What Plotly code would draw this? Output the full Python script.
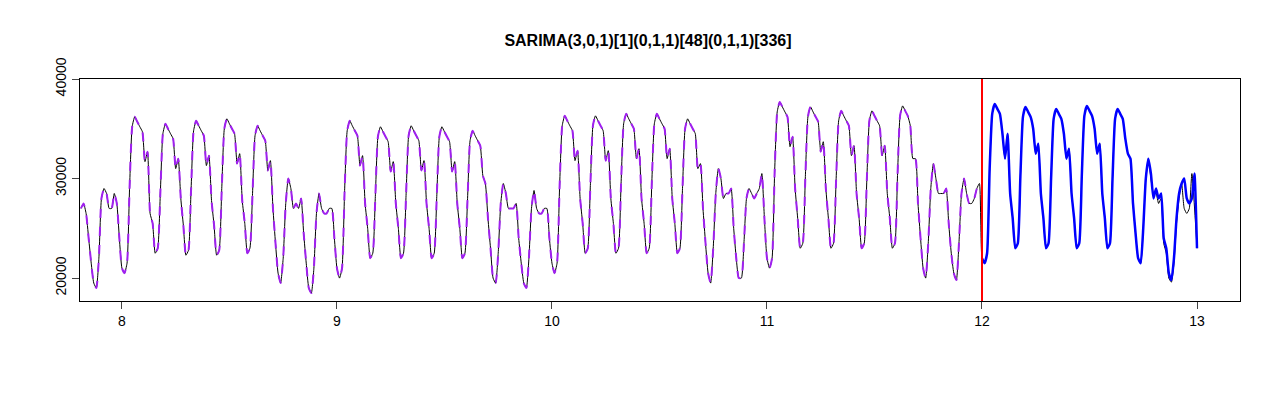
import plotly.graph_objects as go

# 2-hourly demand values (hours 0,2,...,22 per day), weeks 7 (partial) to 12
wk7 = [27000, 27500, 26500, 24000,
       21500, 19500, 19000, 22000, 28000, 29000, 28500, 27000, 27000, 28500, 27500, 24000]
wk8 = [21000, 20500, 21500, 29200, 35200, 36200, 35700, 35200, 34700, 31700, 32700, 26500,
       25500, 22500, 23000, 28500, 34500, 35500, 35000, 34500, 34000, 31000, 32000, 28000,
       25300, 22300, 22800, 28800, 34800, 35800, 35300, 34800, 34300, 31300, 32300, 27800,
       25300, 22300, 22800, 29000, 35000, 36000, 35500, 35000, 34500, 31500, 32500, 27800,
       25500, 22500, 23000, 28300, 34300, 35300, 34800, 34300, 33800, 30800, 31800, 27000,
       23500, 20500, 19500, 22000, 27500, 30000, 29000, 27000, 27500, 27000, 28000, 24500,
       21500, 19000, 18500, 21000, 26500, 28500, 27000, 26500, 26500, 27000, 27000, 24000]
wk9 = [21000, 20000, 21000, 28800, 34800, 35800, 35300, 34800, 34300, 31300, 32300, 27500,
       25000, 22000, 22500, 28200, 34200, 35200, 34700, 34200, 33700, 30700, 31700, 27500,
       25000, 22000, 22500, 28300, 34300, 35300, 34800, 34300, 33800, 30800, 31800, 27500,
       25000, 22000, 22500, 28200, 34200, 35200, 34700, 34200, 33700, 30700, 31700, 27500,
       25000, 22000, 22500, 27800, 33800, 34800, 34300, 33800, 33300, 30300, 29500, 26000,
       23000, 20000, 19500, 22500, 27500, 29500, 28500, 27000, 27000, 27000, 27500, 24000,
       21500, 19500, 19000, 22000, 27000, 28800, 27000, 26500, 26500, 27000, 27000, 24000]
wk10 = [21500, 20500, 21500, 29300, 35300, 36300, 35800, 35300, 34800, 31800, 32800, 28000,
        25500, 22500, 23000, 29300, 35300, 36300, 35800, 35300, 34800, 31800, 32800, 28000,
        25500, 22500, 23000, 29500, 35500, 36500, 36000, 35500, 35000, 32000, 33000, 28000,
        25500, 22500, 23000, 29500, 35500, 36500, 36000, 35500, 35000, 32000, 33000, 28000,
        25500, 22500, 23000, 29000, 35000, 36000, 35500, 35000, 34500, 31000, 31500, 27000,
        23500, 20500, 19500, 23000, 28500, 31000, 30000, 28000, 28500, 28500, 29000, 25000,
        22000, 20000, 20000, 23500, 28000, 29000, 28500, 28000, 28500, 29000, 30500, 26000]
wk11 = [22000, 21000, 22000, 30700, 36700, 37700, 37200, 36700, 36200, 33200, 34200, 29000,
        26000, 23000, 23500, 30200, 36200, 37200, 36700, 36200, 35700, 32700, 33700, 29000,
        26000, 23000, 23500, 29800, 35800, 36800, 36300, 35800, 35300, 32300, 33300, 28500,
        26000, 23000, 23500, 29800, 35800, 36800, 36300, 35800, 35300, 32300, 33300, 28500,
        26000, 23000, 23500, 30300, 36300, 37300, 36800, 36300, 35300, 32000, 32000, 27500,
        24000, 21000, 20000, 23500, 29000, 31500, 30000, 28500, 28500, 28500, 29000, 25500,
        22500, 20500, 19800, 23500, 28500, 30000, 28500, 27500, 27500, 28000, 29000, 29500]
wk12_actual = [22000, 21500, 22500, 31000, 36500, 37500, 37000, 36500, 34500, 32000, 34500, 28500,
               26000, 23000, 23500, 30200, 36200, 37200, 36700, 36200, 35000, 32500, 33500, 28500,
               26000, 23000, 23500, 30000, 36000, 37000, 36500, 36000, 34500, 32000, 33000, 28500,
               26000, 23000, 23500, 30300, 36300, 37300, 36800, 36300, 35000, 32500, 33500, 28500,
               26000, 23000, 23500, 30000, 36000, 37000, 36500, 36000, 34000, 32500, 32000, 27500,
               24500, 22000, 21500, 25000, 30000, 32000, 30000, 28500, 28500, 27500, 28000, 23500,
               22500, 20000, 19600, 21500, 25500, 28000, 29500, 27000, 26500, 27000, 30500, 23000]
wk12_forecast = [22000, 21500, 22500, 31000, 36500, 37500, 37000, 36500, 34500, 32000, 34500, 28500,
                 26000, 23000, 23500, 30200, 36200, 37200, 36700, 36200, 35000, 32500, 33500, 28500,
                 26000, 23000, 23500, 30000, 36000, 37000, 36500, 36000, 34500, 32000, 33000, 28500,
                 26000, 23000, 23500, 30300, 36300, 37300, 36800, 36300, 35000, 32500, 33500, 28500,
                 26000, 23000, 23500, 30000, 36000, 37000, 36500, 36000, 34000, 32500, 32000, 27500,
                 24500, 22000, 21500, 25000, 30000, 32000, 30500, 28000, 29000, 28000, 28500, 24000,
                 23000, 20500, 19800, 22000, 26000, 28500, 29500, 30000, 28000, 27500, 28000, 30500, 23000]

x_start = 7 + 68 / 84  # week 7, Saturday 16:00
step = 1 / 84          # two hours, in weeks

fit_vals = wk7 + wk8 + wk9 + wk10 + wk11
actual_vals = fit_vals + wk12_actual
x_actual = [x_start + i * step for i in range(len(actual_vals))]
x_actual[-1] = 13.0
x_fit = x_actual[:len(fit_vals)]
x_fc = [12 + i * step for i in range(len(wk12_forecast))]
x_fc[-1] = 13.0

fig = go.Figure()
fig.add_trace(go.Scatter(x=x_actual, y=actual_vals, mode="lines",
                         line=dict(color="black", width=1, shape="spline", smoothing=0.5)))
fig.add_trace(go.Scatter(x=x_fit, y=fit_vals, mode="lines",
                         line=dict(color="#a020f0", width=2, dash="dash", shape="spline", smoothing=0.5)))
fig.add_trace(go.Scatter(x=x_fc, y=wk12_forecast, mode="lines",
                         line=dict(color="#0000ff", width=2.5, shape="spline", smoothing=0.5)))
fig.add_shape(type="line", x0=12, x1=12, y0=0, y1=1, yref="paper",
              line=dict(color="red", width=2))

fig.update_layout(
    width=1280, height=400, showlegend=False,
    plot_bgcolor="white", paper_bgcolor="white",
    margin=dict(l=72, r=48, t=71, b=107),
    title=dict(text="<b>SARIMA(3,0,1)[1](0,1,1)[48](0,1,1)[336]</b>", x=0.5, xanchor="center",
               y=0.92, yanchor="middle",
               font=dict(family="Liberation Sans, Arial", size=16, color="black")),
    font=dict(family="Liberation Sans, Arial", size=14, color="black"),
    xaxis=dict(range=[7.805, 13.2], tickvals=[8, 9, 10, 11, 12, 13], showgrid=False, zeroline=False,
               showline=True, linecolor="black", mirror=True, ticks="outside", ticklen=7,
               automargin=False),
    yaxis=dict(range=[17700, 40000], tickvals=[20000, 30000, 40000],
               ticktext=["20000", "30000", "40000"], showgrid=False, zeroline=False,
               showline=True, linecolor="black", mirror=True, ticks="outside", ticklen=7,
               tickangle=-90, automargin=False),
)
fig.write_html("out.html")
